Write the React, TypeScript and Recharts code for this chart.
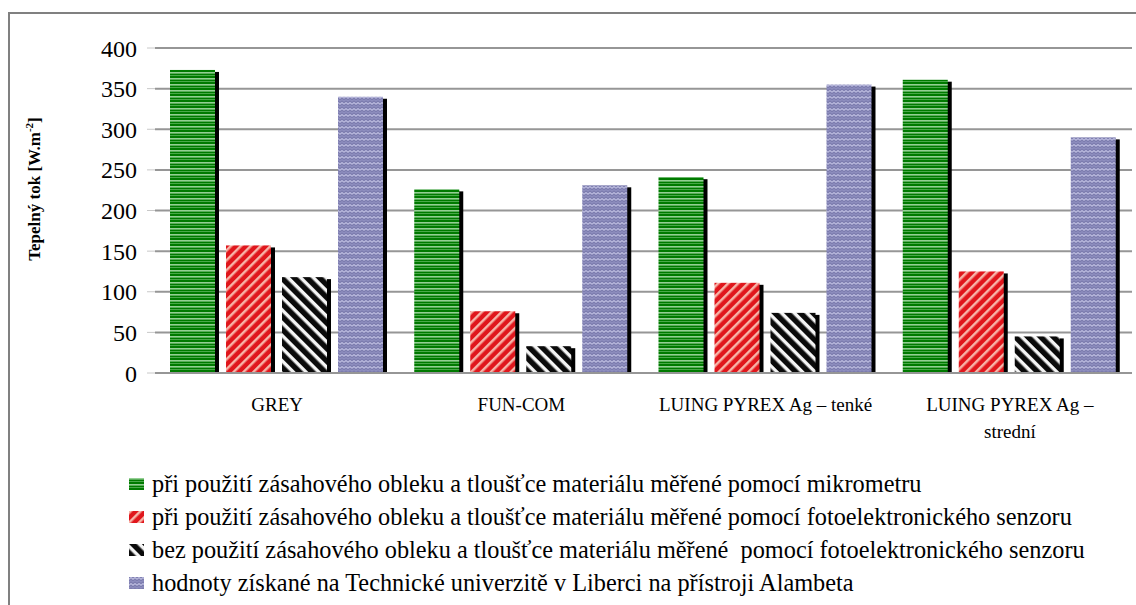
import React from 'react'
import { BarChart, Bar, XAxis, YAxis, CartesianGrid, Legend } from 'recharts'

const materials = ['GREY', 'FUN-COM', 'LUING PYREX Ag – tenké', 'LUING PYREX Ag – strední']
const materialLines = [['GREY'], ['FUN-COM'], ['LUING PYREX Ag – tenké'], ['LUING PYREX Ag –', 'strední']]

const suitMicrometer = [373, 226, 241, 361]
const suitSensor = [157, 76, 111, 125]
const noSuitSensor = [118, 33, 74, 45]
const alambeta = [340, 231, 355, 290]

const yTicks = [0, 50, 100, 150, 200, 250, 300, 350, 400]

const seriesNames = [
  'při použití zásahového obleku a tloušťce materiálu měřené pomocí mikrometru',
  'při použití zásahového obleku a tloušťce materiálu měřené pomocí fotoelektronického senzoru',
  'bez použití zásahového obleku a tloušťce materiálu měřené  pomocí fotoelektronického senzoru',
  'hodnoty získané na Technické univerzitě v Liberci na přístroji Alambeta',
]

const seriesKeys = ['micro', 'sensor', 'nosuit', 'alambeta']
const patternIds = ['patGreen', 'patRed', 'patBlack', 'patPurple']

const data = materials.map((name, i) => ({
  name,
  micro: suitMicrometer[i],
  sensor: suitSensor[i],
  nosuit: noSuitSensor[i],
  alambeta: alambeta[i],
}))

const FONT = 'Liberation Serif'
const GRID = '#969696'

function Patterns() {
  return (
    <defs>
      <pattern id="patGreen" width="8" height="6" patternUnits="userSpaceOnUse">
        <rect width="8" height="6" fill="#007a00" />
        <rect y="0" width="8" height="1.6" fill="#93cf93" />
        <rect y="3" width="8" height="1" fill="#4aa84a" />
      </pattern>
      <pattern id="patRed" width="7" height="7" patternUnits="userSpaceOnUse" patternTransform="rotate(45)">
        <rect width="7" height="7" fill="#e0161c" />
        <rect x="0" width="2.5" height="7" fill="#f7b4a8" />
      </pattern>
      <pattern id="patBlack" width="9" height="9" patternUnits="userSpaceOnUse" patternTransform="rotate(-45)">
        <rect width="9" height="9" fill="#f4f4f4" />
        <rect x="0" width="5" height="9" fill="#0a0a0a" />
        <rect x="5" width="1" height="9" fill="#777" />
      </pattern>
      <pattern id="patPurple" width="8" height="6" patternUnits="userSpaceOnUse">
        <rect width="8" height="6" fill="#7c7cae" />
        <path d="M0 2.2 L2 0.6 L4 2.2 L6 0.6 L8 2.2" stroke="#bdbde0" strokeWidth="1.2" fill="none" />
        <path d="M0 5.2 L2 3.6 L4 5.2 L6 3.6 L8 5.2" stroke="#9696c6" strokeWidth="1" fill="none" />
      </pattern>
    </defs>
  )
}

// bar body with the small black drop shadow on its right side
function ShadowBar(props: any) {
  const { x, y, width, height, patternId } = props
  if (!height || height <= 0) return null
  return (
    <g>
      <rect x={x + 4} y={y + 2} width={width} height={height - 2} fill="#000" />
      <rect x={x} y={y} width={width} height={height} fill={`url(#${patternId})`} />
    </g>
  )
}

function MaterialTick(props: any) {
  const { x, y, index } = props
  const lines = materialLines[index] || []
  return (
    <text x={x} y={y} textAnchor="middle" style={{ fontFamily: FONT }} fontSize={19} fill="#000">
      {lines.map((line, i) => (
        <tspan key={i} x={x} dy={i === 0 ? 38 : 27}>
          {line}
        </tspan>
      ))}
    </text>
  )
}

function YLabel() {
  return (
    <text
      transform="translate(40, 189) rotate(-90)"
      textAnchor="middle"
      style={{ fontFamily: FONT }}
      fontSize={17}
      fontWeight="bold"
      fill="#000"
    >
      Tepelný tok [W.m
      <tspan dy={-7} fontSize={11}>-2</tspan>
      <tspan dy={7}>]</tspan>
    </text>
  )
}

function LegendBox() {
  return (
    <div style={{ position: 'absolute', left: 129, top: 467, fontSize: 24.3, color: '#000', fontFamily: FONT }}>
      {seriesNames.map((label, i) => (
        <div key={i} style={{ display: 'flex', alignItems: 'center', height: 33, whiteSpace: 'pre' }}>
          <svg width={15} height={12} style={{ marginRight: 8 }}>
            <Patterns />
            <rect width={15} height={12} fill={`url(#${patternIds[i]})`} />
          </svg>
          <span>{label}</span>
        </div>
      ))}
    </div>
  )
}

export default function App() {
  return (
    <div style={{ position: 'absolute', left: 0, top: 0, width: 1136, height: 605, background: '#fff', overflow: 'hidden' }}>
      <div
        style={{
          position: 'absolute',
          left: 8,
          top: 12,
          width: 1200,
          height: 700,
          borderLeft: `2px solid #808080`,
          borderTop: `2px solid #808080`,
        }}
      />
      <BarChart
        width={1136}
        height={605}
        data={data}
        margin={{ top: 48, right: 4, bottom: 172, left: 0 }}
        barGap={11}
        barCategoryGap={15}
        style={{ position: 'absolute', left: 0, top: 0 }}
      >
        <Patterns />
        <CartesianGrid vertical={false} stroke={GRID} strokeWidth={2} />
        <XAxis
          dataKey="name"
          axisLine={{ stroke: GRID, strokeWidth: 2 }}
          tickLine={false}
          tickSize={0}
          tickMargin={0}
          height={60}
          interval={0}
          tick={<MaterialTick />}
        />
        <YAxis
          width={155}
          domain={[0, 400]}
          ticks={yTicks}
          axisLine={false}
          tickLine={{ stroke: '#c8c8c8' }}
          tickSize={8}
          tickMargin={10}
          tick={{ fontSize: 24, fill: '#000', style: { fontFamily: FONT } }}
          label={<YLabel />}
        />
        {seriesKeys.map((key, i) => (
          <Bar
            key={key}
            dataKey={key}
            name={seriesNames[i]}
            isAnimationActive={false}
            shape={(p: any) => <ShadowBar {...p} patternId={patternIds[i]} />}
          />
        ))}
        <Legend content={() => null} />
      </BarChart>
      <LegendBox />
    </div>
  )
}
